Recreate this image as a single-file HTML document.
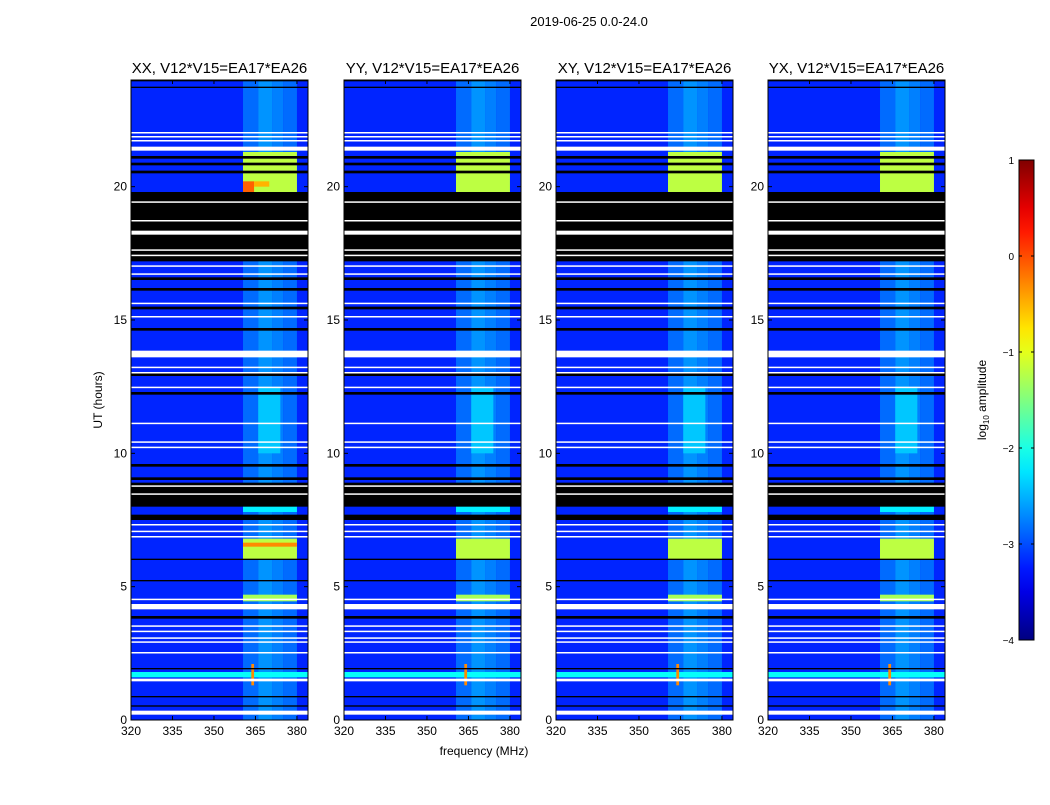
<!DOCTYPE html>
<html><head><meta charset="utf-8"><style>
body{margin:0;background:#fff;font-family:"Liberation Sans","DejaVu Sans",sans-serif}
svg text{font-family:"Liberation Sans","DejaVu Sans",sans-serif}
</style></head><body>
<svg id="fig" width="1050" height="800" viewBox="0 0 1050 800" xmlns="http://www.w3.org/2000/svg">
<text x="589" y="26" font-size="13" text-anchor="middle">2019-06-25 0.0-24.0</text>
<text x="484" y="755" font-size="12" text-anchor="middle">frequency (MHz)</text>
<text transform="translate(102,400) rotate(-90)" font-size="12" text-anchor="middle">UT (hours)</text>
<text transform="translate(986,400) rotate(-90)" font-size="12" text-anchor="middle">log<tspan font-size="8" dy="3">10</tspan><tspan dy="-3"> amplitude</tspan></text>
</svg>
<script>
const panelTitles=["XX, V12*V15=EA17*EA26","YY, V12*V15=EA17*EA26","XY, V12*V15=EA17*EA26","YX, V12*V15=EA17*EA26"];
const panelX=[131,344,556,768];
const xTicks=[320,335,350,365,380];
const yTicks=[0,5,10,15,20];
const cbTicks=[1,0,-1,-2,-3,-4];
const baseLevel=-3.2;
// [f0,f1,level] broad frequency bands
const bands=[[360.5,366,-2.85],[366,371,-2.65],[371,375,-2.75],[375,380,-2.85]];
// [t0,t1,f0,f1,level] bright patches
const patches=[[19.8,21.3,360.5,380,-1.2],[10,12.5,366,374,-2.4],[6.0,6.8,360.5,380,-1.2],[4.45,4.7,360.5,380,-1.3],[1.6,1.8,320,384,-2.1],[1.3,2.1,363.5,364.5,-0.3],[7.8,8.8,360.5,380,-2.2]];
const xxSpot=[[19.8,20.2,360.5,364.5,-0.1],[20.0,20.2,364.5,370,-0.5],[6.5,6.65,360.5,380,-0.3]];
// [t0,t1] flagged rows
const blackRows=[[17.2,19.8],[21.05,21.15],[20.5,20.6],[20.8,20.9],[16.5,16.6],[16.1,16.2],[15.4,15.5],[14.6,14.7],[12.9,13.0],[12.2,12.3],[9.5,9.6],[9.0,9.1],[8.0,8.9],[7.5,7.7],[6.0,6.05],[5.2,5.25],[3.8,3.9],[1.9,1.95],[0.85,0.9],[0.5,0.55],[23.7,23.75],[24.0,23.95]];
const whiteRows=[[21.35,21.5],[21.7,21.75],[21.85,21.9],[22.0,22.05],[19.4,19.45],[18.7,18.75],[18.2,18.35],[17.6,17.65],[17.4,17.45],[17.0,17.05],[16.7,16.75],[15.6,15.65],[15.1,15.15],[13.6,13.85],[13.2,13.25],[13.0,13.05],[12.45,12.5],[11.1,11.15],[10.4,10.45],[10.2,10.25],[8.75,8.8],[8.45,8.5],[7.3,7.35],[7.05,7.1],[6.85,6.9],[4.5,4.55],[4.15,4.35],[3.5,3.55],[3.3,3.35],[3.05,3.1],[2.9,2.95],[2.5,2.55],[1.45,1.55],[0.2,0.35]];
function jet(v){let t=(v+4)/5;t=Math.max(0,Math.min(1,t));
 const r=Math.max(0,Math.min(1,Math.min(4*t-1.5,-4*t+4.5))),g=Math.max(0,Math.min(1,Math.min(4*t-0.5,-4*t+3.5))),b=Math.max(0,Math.min(1,Math.min(4*t+0.5,-4*t+2.5)));
 return `rgb(${Math.round(r*255)},${Math.round(g*255)},${Math.round(b*255)})`;}
const svg=document.getElementById('fig');const NS="http://www.w3.org/2000/svg";
function el(t,a,p){const e=document.createElementNS(NS,t);for(const k in a)e.setAttribute(k,a[k]);(p||svg).appendChild(e);return e;}
const PW=177,PT=80,PB=720;
panelTitles.forEach((title,i)=>{
 const x0=panelX[i];
 const xs=f=>x0+(f-320)/64*PW;const ys=h=>PB-h/24*(PB-PT);
 const g=el('g',{});
 
 
 const bg=el('rect',{x:x0,y:PT,width:PW,height:PB-PT,fill:jet(baseLevel)},g);
 
 
 bands.forEach(b=>{const r=el('rect',{x:xs(b[0]),y:PT,width:xs(b[1])-xs(b[0]),height:PB-PT,fill:jet(b[2])},g);
  
  });
 const ps=i===0?patches.concat(xxSpot):patches;
 ps.forEach(p=>{const r=el('rect',{x:xs(p[2]),y:ys(p[1]),width:xs(p[3])-xs(p[2]),height:ys(p[0])-ys(p[1]),fill:jet(p[4])},g);
  
  });
 blackRows.forEach(r0=>{const a=Math.min(r0[0],r0[1]),b=Math.max(r0[0],r0[1]);const r=el('rect',{x:x0,y:ys(b),width:PW,height:Math.max(1,ys(a)-ys(b)),fill:'#000'},g);
  
  });
 whiteRows.forEach(r0=>{const r=el('rect',{x:x0,y:ys(r0[1]),width:PW,height:Math.max(1.5,ys(r0[0])-ys(r0[1])),fill:'#fff'},g);
  
  });
 const fr=el('rect',{x:x0,y:PT,width:PW,height:PB-PT,fill:'none',stroke:'#000','stroke-width':1},g);
 
 
 const t=el('text',{x:x0+PW/2,y:73,'font-size':15,'text-anchor':'middle'},g);t.textContent=title;
 
 
 xTicks.forEach(v=>{el('line',{x1:xs(v),x2:xs(v),y1:PB,y2:PB-4,stroke:'#000'},g);el('line',{x1:xs(v),x2:xs(v),y1:PT,y2:PT+4,stroke:'#000'},g);
  const l=el('text',{x:xs(v),y:PB+15,'font-size':12,'text-anchor':'middle'},g);l.textContent=v;
  
  });
 yTicks.forEach(v=>{el('line',{x1:x0,x2:x0+4,y1:ys(v),y2:ys(v),stroke:'#000'},g);el('line',{x1:x0+PW,x2:x0+PW-4,y1:ys(v),y2:ys(v),stroke:'#000'},g);
  const l=el('text',{x:x0-4,y:ys(v)+4,'font-size':12,'text-anchor':'end'},g);l.textContent=v;
  
  });
});
// colorbar
const cbx=1019,cbw=15,cbt=160,cbb=640;
const defs=el('defs',{});const lg=el('linearGradient',{id:'cbg',x1:0,y1:1,x2:0,y2:0},defs);
for(let k=0;k<=20;k++){const v=-4+k*5/20;el('stop',{offset:k/20,'stop-color':jet(v)},lg);}
const cb=el('rect',{x:cbx,y:cbt,width:cbw,height:cbb-cbt,fill:'url(#cbg)',stroke:'#000'});


cbTicks.forEach(v=>{const y=cbb-(v+4)/5*(cbb-cbt);
 el('line',{x1:cbx,x2:cbx+3,y1:y,y2:y,stroke:'#000'});el('line',{x1:cbx+cbw,x2:cbx+cbw-3,y1:y,y2:y,stroke:'#000'});
 const l=el('text',{x:cbx-5,y:y+4,'font-size':10,'text-anchor':'end'});l.textContent=v<0?'\u2212'+(-v):v;
 
 });
</script>
</body></html>
